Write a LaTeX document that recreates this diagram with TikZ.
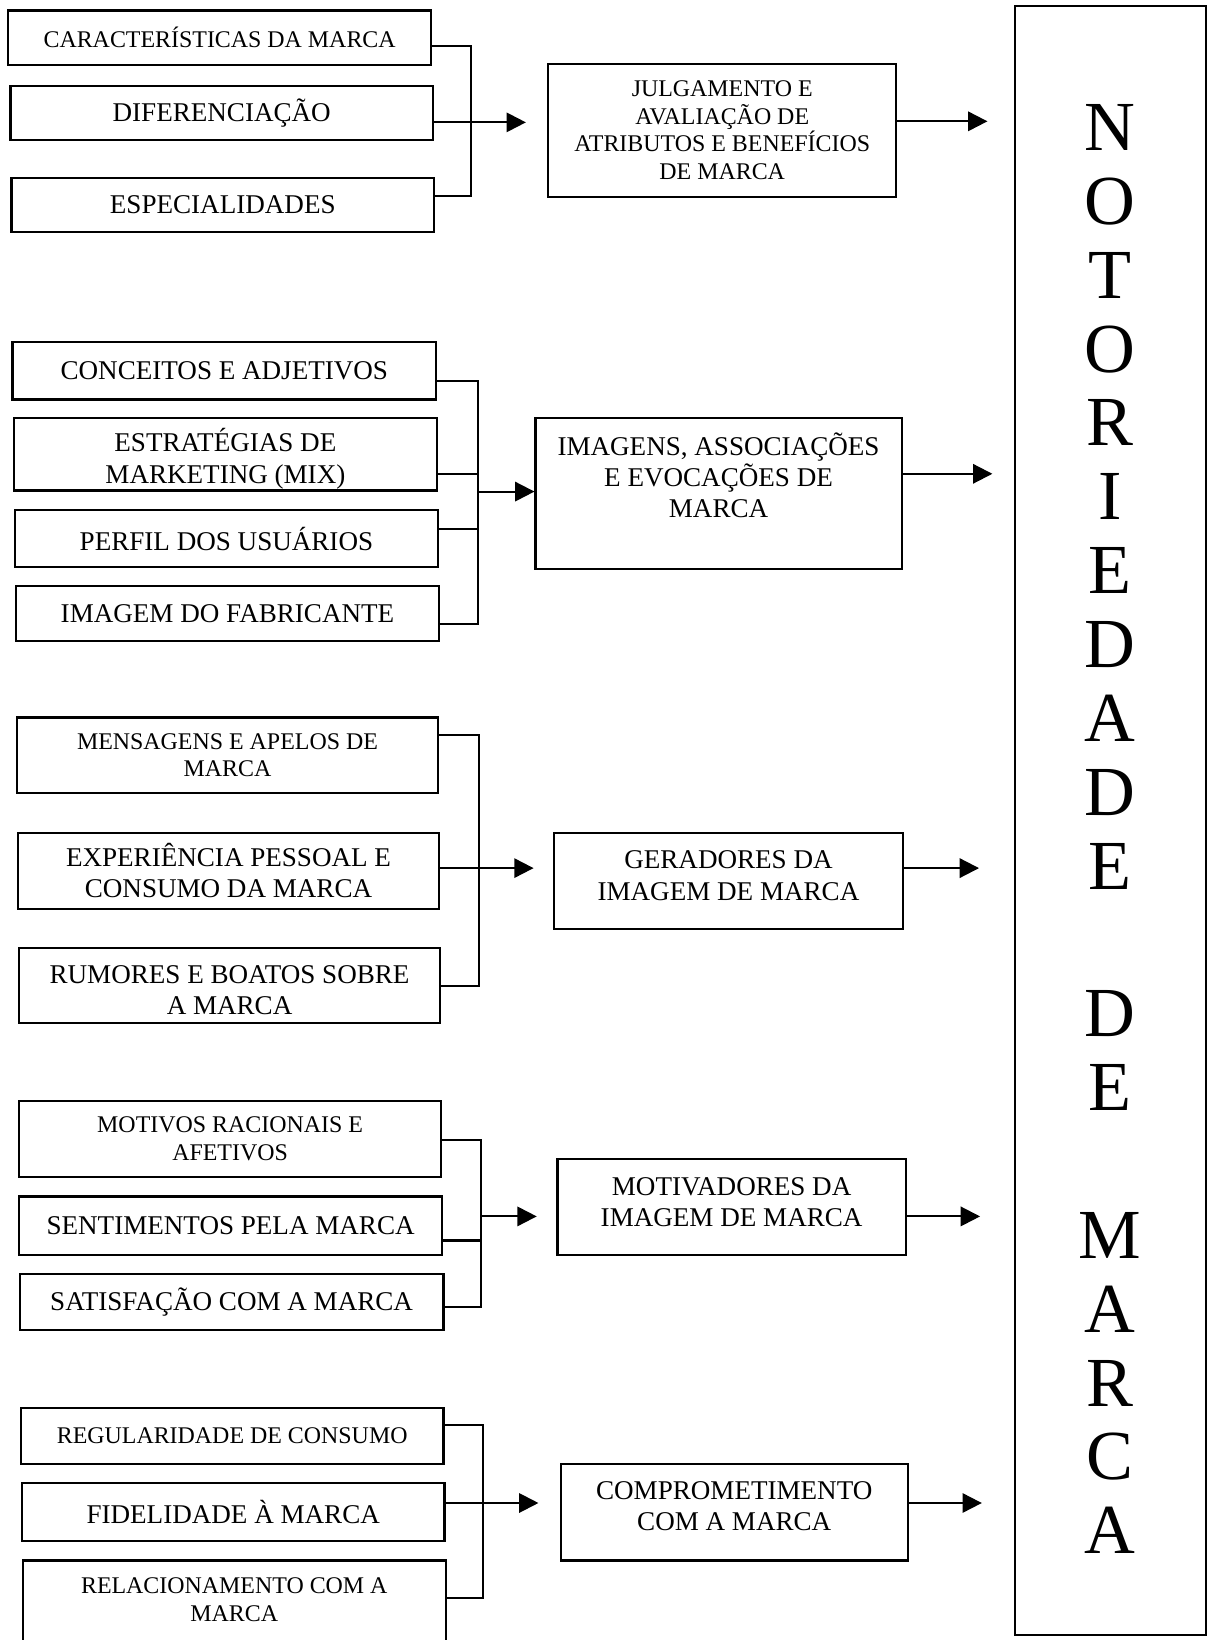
\documentclass[tikz,border=0pt]{standalone}
\usepackage{fontspec}
\setmainfont{Liberation Serif}
\usetikzlibrary{arrows.meta}
\usetikzlibrary{math}

\begin{document}
\begin{tikzpicture}[x=0.010459cm, y=-0.010459cm,
  box/.style 2 args={draw, line width=0.6pt, inner sep=0pt, align=center,
    minimum width=#1*\px*1cm, minimum height=#2*\px*1cm},
  bigfont/.style={font=\fontsize{7.7}{8.9}\selectfont},
  smallfont/.style={font=\fontsize{6.8}{7.9}\selectfont},
  conn/.style={line width=0.6pt},
  arr/.style={line width=0.6pt, -{Triangle[length=5.5pt, width=5.5pt]}}
]
\tikzmath{
\px=0.010459;
}
\useasboundingbox (0,0) rectangle (1155,1568);
\clip (0,0) rectangle (1155,1568);

% attributes
\node[box={404}{52}, smallfont] (car) at (210,36) {CARACTERÍSTICAS DA MARCA};
\node[box={404}{52}, bigfont] (dif) at (212,108) {DIFERENCIAÇÃO};
\node[box={404}{52}, bigfont] (esp) at (213,196) {ESPECIALIDADES};
\node[box={333}{127}, smallfont] (jul) at (690.5,124.5) {JULGAMENTO E\\AVALIAÇÃO DE\\ATRIBUTOS E BENEFÍCIOS\\DE MARCA};

% associations
\node[box={405}{55}, bigfont] (con) at (214.5,354.5) {CONCEITOS E ADJETIVOS};
\node[box={405}{69}, bigfont] (est) at (215.5,434.5) {\rule{0pt}{9pt}ESTRATÉGIAS DE\\MARKETING (MIX)};
\node[box={405}{54}, bigfont] (per) at (216.5,515) {PERFIL DOS USUÁRIOS};
\node[box={405}{53}, bigfont] (fab) at (217.5,586.5) {IMAGEM DO FABRICANTE};
\node[box={350}{144}, bigfont] (ima) at (687,472) {IMAGENS, ASSOCIAÇÕES\\E EVOCAÇÕES DE\\MARCA\rule[-10.5pt]{0pt}{0pt}};

% generators
\node[box={403}{72}, smallfont] (men) at (217.5,722) {MENSAGENS E APELOS DE\\MARCA};
\node[box={403}{73}, bigfont] (exp) at (218.5,832.5) {EXPERIÊNCIA PESSOAL E\\CONSUMO DA MARCA};
\node[box={403}{72}, bigfont] (rum) at (219.5,942) {\rule{0pt}{8pt}RUMORES E BOATOS SOBRE\\A MARCA};
\node[box={333}{92}, bigfont] (ger) at (696.5,842) {GERADORES DA\\IMAGEM DE MARCA\rule[-3pt]{0pt}{0pt}};

% motivators
\node[box={404}{72}, smallfont] (mot) at (220,1089) {MOTIVOS RACIONAIS E\\AFETIVOS};
\node[box={405}{56}, bigfont] (sen) at (220.5,1172) {SENTIMENTOS PELA MARCA};
\node[box={405}{54}, bigfont] (sat) at (221.5,1245) {SATISFAÇÃO COM A MARCA};
\node[box={333}{92}, bigfont] (mtv) at (699.5,1154) {MOTIVADORES DA\\IMAGEM DE MARCA\rule[-3pt]{0pt}{0pt}};

% commitment
\node[box={404}{54}, smallfont] (reg) at (222,1373) {REGULARIDADE DE CONSUMO};
\node[box={404}{55}, bigfont] (fid) at (223,1445.5) {FIDELIDADE À MARCA};
\node[box={404}{83}, smallfont] (rel) at (224,1533.5) {RELACIONAMENTO COM A\\MARCA\rule[-2.4pt]{0pt}{0pt}};
\node[box={332}{92}, bigfont] (com) at (702,1446) {COMPROMETIMENTO\\COM A MARCA\rule[-3.5pt]{0pt}{0pt}};

\node[box={183}{1557}, font=\fontsize{20}{21}\selectfont] (notoriedade) at (1061.5,784.5)
  {\rule{0pt}{18pt}N\\O\\T\\O\\R\\I\\E\\D\\A\\D\\E\\[21pt]D\\E\\[21pt]M\\A\\R\\C\\A};

% connectors
\coordinate (j1) at (450,117);
\draw[conn] (car.east |- 0,44) -| (j1) |- (esp.east |- 0,187);
\draw[arr, shorten >=6pt] (dif.east |- j1) -- (j1 -| jul.west);
\draw[arr, shorten >=7.4pt] (jul.east |- 0,116) -- (notoriedade.west |- 0,116);

\coordinate (j2) at (457,470);
\draw[conn] (con.east |- 0,364) -| (j2) |- (fab.east |- 0,597);
\draw[conn] (est.east |- 0,453) -- (j2 |- 0,453);
\draw[conn] (per.east |- 0,506) -- (j2 |- 0,506);
\draw[arr] (j2) -- (j2 -| ima.west);
\draw[arr, shorten >=6pt] (ima.east |- 0,453) -- (notoriedade.west |- 0,453);

\coordinate (j3) at (458,830);
\draw[conn] (men.east |- 0,703) -| (j3) |- (rum.east |- 0,943);
\draw[arr, shorten >=5.6pt] (exp.east |- j3) -- (j3 -| ger.west);
\draw[arr, shorten >=9.8pt] (ger.east |- j3) -- (notoriedade.west |- j3);

\coordinate (j4) at (460,1163);
\draw[conn] (mot.east |- 0,1090) -| (j4) |- (sat.east |- 0,1250);
\draw[conn] (sen.east |- 0,1186) -- (j4 |- 0,1186);
\draw[arr, shorten >=5.6pt] (j4) -- (j4 -| mtv.west);
\draw[arr, shorten >=9.5pt] (mtv.east |- j4) -- (notoriedade.west |- j4);

\coordinate (j5) at (462,1437);
\draw[conn] (reg.east |- 0,1362) -| (j5) |- (rel.east |- 0,1528);
\draw[arr, shorten >=6pt] (fid.east |- j5) -- (j5 -| com.west);
\draw[arr, shorten >=9pt] (com.east |- j5) -- (notoriedade.west |- j5);
\end{tikzpicture}
\end{document}
